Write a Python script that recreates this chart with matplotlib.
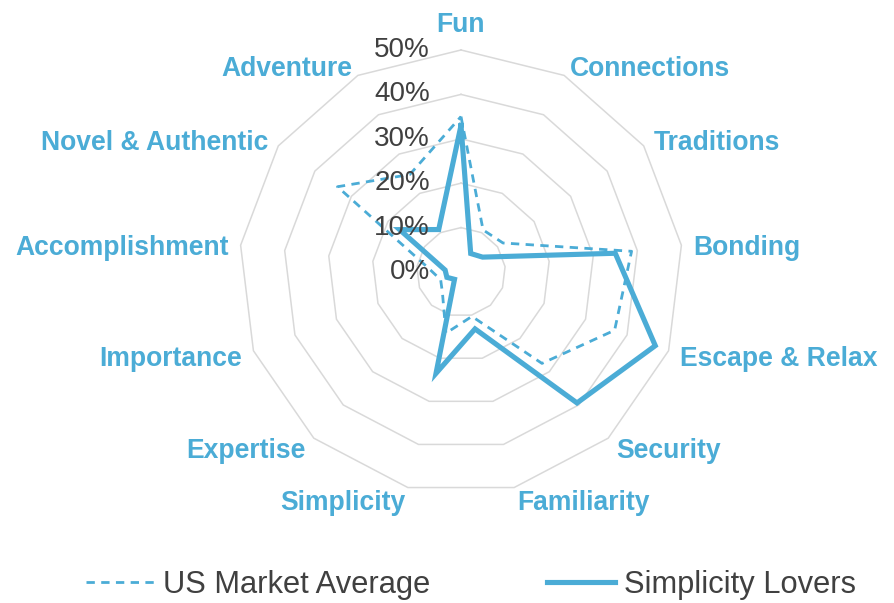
import matplotlib
matplotlib.use("Agg")
import matplotlib.pyplot as plt
from matplotlib.lines import Line2D
from matplotlib.transforms import offset_copy
import numpy as np

plt.rcParams["font.family"] = ["Liberation Sans", "DejaVu Sans"]

BLUE = "#4BACD6"
GRID_C = "#D9D9D9"
TEXT_C = "#404040"

categories = ["Fun", "Connections", "Traditions", "Bonding", "Escape & Relax",
              "Security", "Familiarity", "Simplicity", "Expertise", "Importance",
              "Accomplishment", "Novel & Authentic", "Adventure"]
us_market_avg = [35, 10.7, 11.5, 38.7, 37, 27.5, 10.3, 14.2, 6.3, 4.9, 7.4, 33.8, 24.8]
simplicity_lovers = [33, 4.7, 5.9, 35, 46.8, 39.4, 13.2, 23.5, 2.2, 3.4, 3.6, 16.8, 10.8]
ring_values = [10, 20, 30, 40, 50]
tick_values = [0, 10, 20, 30, 40, 50]

n = len(categories)
theta = np.arange(n) * 2 * np.pi / n
theta_c = np.append(theta, theta[0])


def closed(vals):
    return np.append(vals, vals[0])


fig = plt.figure(figsize=(8.95, 6.03), dpi=100)
# centre at (461, 272) px, 50% ring radius 222 px
ax = fig.add_axes([239 / 895, 109 / 603, 444 / 895, 444 / 603], projection="polar")
ax.set_theta_zero_location("N")
ax.set_theta_direction(-1)
ax.set_ylim(0, 50)
ax.grid(False)
ax.spines["polar"].set_visible(False)
ax.set_xticks([])
ax.set_yticks([])
ax.patch.set_alpha(0)

for v in ring_values:
    ax.plot(theta_c, [v] * (n + 1), color=GRID_C, lw=1.1, zorder=1, clip_on=False)

ax.plot(theta_c, closed(us_market_avg), color=BLUE, lw=2.0,
        linestyle=(0, (3.0, 2.3)), zorder=3, clip_on=False)
ax.plot(theta_c, closed(simplicity_lovers), color=BLUE, lw=3.7,
        solid_joinstyle="miter", zorder=4, clip_on=False)

for v in tick_values:
    tr = offset_copy(ax.transData, fig=fig, x=-31, y=0, units="dots")
    ax.text(0, v, f"{v}%", transform=tr, ha="right", va="center",
            fontsize=20, color=TEXT_C, zorder=6)

for t, lab in zip(theta, categories):
    s, c = np.sin(t), np.cos(t)
    if abs(s) < 1e-6:
        tr = offset_copy(ax.transData, fig=fig, x=0, y=12, units="dots")
        ha, va = "center", "bottom"
    else:
        tr = offset_copy(ax.transData, fig=fig, x=12 * s, y=12 * c - 4, units="dots")
        ha, va = ("left" if s > 0 else "right"), "center"
    ax.text(t, 50, lab, transform=tr, ha=ha, va=va, fontsize=19.1,
            fontweight="bold", color=BLUE, zorder=6)

handles = [
    Line2D([], [], color=BLUE, lw=2.0, linestyle=(0, (3.0, 2.3))),
    Line2D([], [], color=BLUE, lw=3.7),
]
fig.legend(handles, ["US Market Average", "Simplicity Lovers"], loc="center",
           bbox_to_anchor=(471 / 895, 1 - 585 / 603), ncol=2, frameon=False,
           fontsize=22.2, labelcolor=TEXT_C, handlelength=2.2, handletextpad=0.3,
           columnspacing=3.8)

fig.savefig("out.png", dpi=100)
